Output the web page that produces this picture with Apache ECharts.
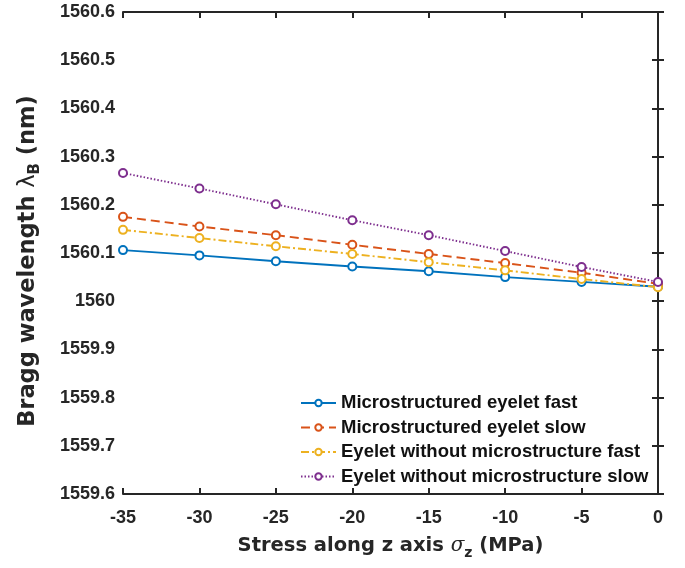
<!DOCTYPE html>
<html>
<head>
    <meta charset="utf-8">
    <title>Bragg wavelength vs stress</title>
    <script src="https://cdn.jsdelivr.net/npm/echarts@6/dist/echarts.min.js"></script>
    <style>
        html, body { margin: 0; padding: 0; background: #fff; }
    </style>
</head>
<body>
<div id="main" style="width: 685px;height:568px;"></div>
<script type="text/javascript">
    // stress values (MPa)
    var stress = [-35, -30, -25, -20, -15, -10, -5, 0];

    // Bragg wavelength per series (nm)
    var mefFast = [1560.106, 1560.095, 1560.083, 1560.072, 1560.062, 1560.050, 1560.040, 1560.030];
    var mefSlow = [1560.175, 1560.155, 1560.137, 1560.117, 1560.098, 1560.079, 1560.059, 1560.036];
    var ewmFast = [1560.148, 1560.131, 1560.114, 1560.098, 1560.081, 1560.064, 1560.046, 1560.029];
    var ewmSlow = [1560.266, 1560.234, 1560.201, 1560.168, 1560.137, 1560.104, 1560.071, 1560.040];

    var names = [
        'Microstructured eyelet fast',
        'Microstructured eyelet slow',
        'Eyelet without microstructure fast',
        'Eyelet without microstructure slow'
    ];
    var colors = ['#0072BD', '#D95319', '#EDB120', '#7E2F8E'];
    var dashes = ['solid', [9, 5], [8, 3, 2, 3], [1.5, 2]];

    var font = 'Liberation Sans, Arial, sans-serif';
    var wide = 'DejaVu Sans, sans-serif';
    var textColor = '#262626';

    function pairs(ys) {
        var out = [];
        for (var i = 0; i < stress.length; i++) out.push([stress[i], ys[i]]);
        return out;
    }

    var myChart = echarts.init(document.getElementById('main'));

    var allData = [mefFast, mefSlow, ewmFast, ewmSlow];
    var series = [];
    for (var k = 0; k < allData.length; k++) {
        series.push({
            name: names[k],
            type: 'line',
            data: pairs(allData[k]),
            symbol: 'emptyCircle',
            symbolSize: 8,
            color: colors[k],
            lineStyle: { width: 1.9, type: dashes[k] },
            itemStyle: { borderWidth: 1.8 },
            z: 2 + k
        });
    }

    var axisLine = { show: true, lineStyle: { color: '#262626', width: 2 } };
    var tick = { show: true, inside: true, length: 6, lineStyle: { color: '#262626', width: 2 } };
    var tickFont = { fontFamily: font, fontWeight: 'bold', fontSize: 18, color: textColor };

    var option = {
        animation: false,
        textStyle: { fontFamily: font },
        grid: { left: 123, right: 27, top: 12, bottom: 74 },
        legend: {
            orient: 'vertical',
            left: 295,
            top: 388,
            itemWidth: 35,
            itemHeight: 8,
            itemGap: 4.5,
            data: names,
            textStyle: { fontFamily: font, fontWeight: 'bold', fontSize: 18.5, lineHeight: 20, color: '#111' }
        },
        xAxis: [
            {
                type: 'value',
                min: -35, max: 0, interval: 5,
                axisLine: axisLine,
                axisTick: tick,
                axisLabel: Object.assign({ margin: 15 }, tickFont),
                splitLine: { show: false },
                name: '{n|Stress along z axis }{g|σ}{s|z}{n| (MPa)}',
                nameLocation: 'middle',
                nameGap: 38,
                nameTextStyle: {
                    rich: {
                        n: { fontFamily: wide, fontWeight: 'bold', fontSize: 19.5, color: textColor },
                        g: { fontFamily: 'DejaVu Serif', fontStyle: 'italic', fontSize: 20, color: textColor },
                        s: { fontFamily: wide, fontWeight: 'bold', fontSize: 14, color: textColor, verticalAlign: 'bottom', padding: [14, 0, 0, 0] }
                    }
                }
            },
            {
                type: 'value', position: 'top',
                min: -35, max: 0, interval: 5,
                axisLine: axisLine,
                axisTick: tick,
                axisLabel: { show: false },
                splitLine: { show: false }
            }
        ],
        yAxis: [
            {
                type: 'value',
                min: 1559.6, max: 1560.6, interval: 0.1,
                axisLine: axisLine,
                axisTick: tick,
                axisLabel: Object.assign({
                    margin: 8,
                    formatter: function (v) { return String(+v.toFixed(1)); }
                }, tickFont),
                splitLine: { show: false },
                name: '{n|Bragg wavelength }{g|λ}{s|B}{n| (nm)}',
                nameLocation: 'middle',
                nameGap: 80,
                nameTextStyle: {
                    padding: [0, 16, 0, 0],
                    rich: {
                        n: { fontFamily: wide, fontWeight: 'bold', fontSize: 22.5, color: textColor },
                        g: { fontFamily: wide, fontSize: 22.5, color: textColor },
                        s: { fontFamily: wide, fontWeight: 'bold', fontSize: 15, color: textColor, verticalAlign: 'bottom', padding: [15, 0, 0, 0] }
                    }
                }
            },
            {
                type: 'value', position: 'right',
                min: 1559.6, max: 1560.6, interval: 0.1,
                axisLine: axisLine,
                axisTick: tick,
                axisLabel: { show: false },
                splitLine: { show: false }
            }
        ],
        series: series
    };
    myChart.setOption(option);
</script>
</body>
</html>
